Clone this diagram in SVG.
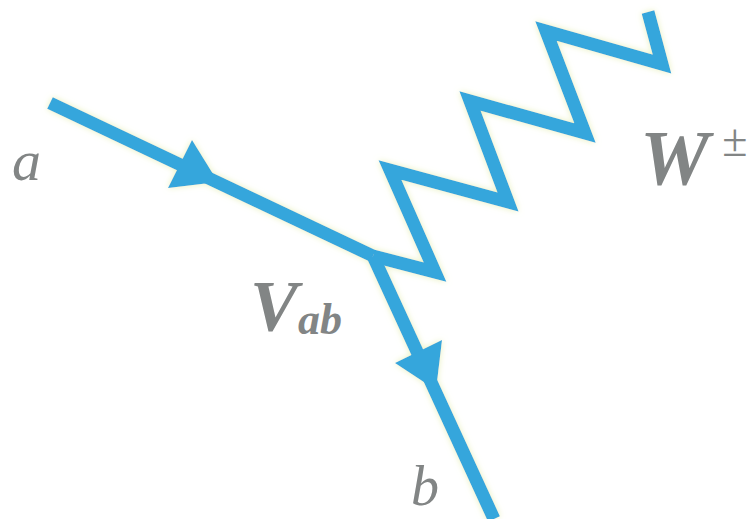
<svg xmlns="http://www.w3.org/2000/svg" width="751" height="519" viewBox="0 0 751 519">
<defs>
<filter id="glow" filterUnits="userSpaceOnUse" x="0" y="0" width="751" height="519">
<feGaussianBlur in="SourceAlpha" stdDeviation="3" result="b"/>
<feFlood flood-color="#e6efb4" flood-opacity="0.9"/>
<feComposite operator="in" in2="b" result="g"/>
<feMerge><feMergeNode in="g"/><feMergeNode in="SourceGraphic"/></feMerge>
</filter>
<style>
.ln{fill:none;stroke:#35a6dc;stroke-width:13;stroke-linejoin:miter;stroke-linecap:butt}
.ah{fill:#35a6dc}
.lbl{font-family:"Liberation Serif","DejaVu Serif",serif;font-style:italic;fill:#828585}
.bold{font-weight:bold}
</style>
</defs>
<rect width="751" height="519" fill="#ffffff"/>
<g id="connectors" filter="url(#glow)">
<path id="fermion-a" class="ln" d="M50,103 L373,256"/>
<path id="fermion-b" class="ln" d="M373,256 L494,519"/>
<path id="boson-w" class="ln" d="M373,256 L435,272 L390,170 L508,202 L470,101 L585,133 L546,31 L662,64 L648,12"/>
<polygon class="ah" points="192,140 168,188 218,182"/>
<polygon class="ah" points="442,340 395,363 436,390"/>
</g>
<g id="label-a"><text class="lbl" x="12" y="180" font-size="58">a</text></g>
<g id="label-W"><text class="lbl bold" x="640" y="184" font-size="78">W</text><text class="lbl" x="722" y="156" font-size="46" font-style="normal">±</text></g>
<g id="label-Vab"><text class="lbl bold" x="250" y="330" font-size="72">V<tspan font-size="44" dy="4">ab</tspan></text></g>
<g id="label-b"><text class="lbl" x="411" y="505" font-size="56">b</text></g>
</svg>
